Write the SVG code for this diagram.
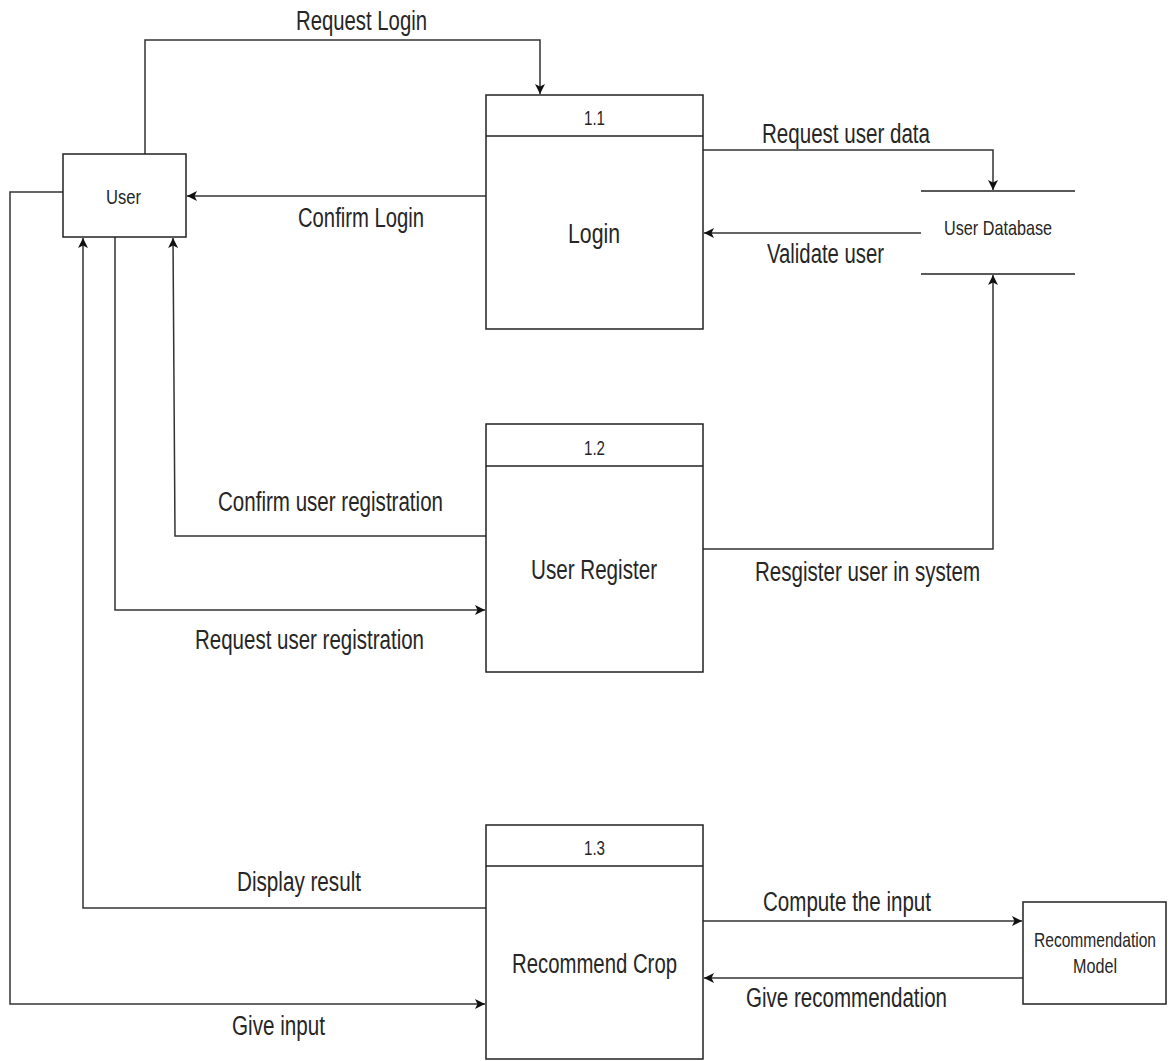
<svg xmlns="http://www.w3.org/2000/svg" width="1168" height="1061" viewBox="0 0 1168 1061">
  <style>
    .box { fill: #ffffff; stroke: #222222; stroke-width: 1.5; }
    .flow { fill: none; stroke: #333333; stroke-width: 1.5; }
    .store { stroke: #222222; stroke-width: 1.5; }
    text { font-family: "Liberation Sans", Arial, sans-serif; fill: #262626; }
    .lbl { font-size: 27px; }
    .sm { font-size: 21px; }
  </style>
  <defs>
    <marker id="arrow" markerUnits="userSpaceOnUse" markerWidth="12" markerHeight="10" refX="10" refY="5" orient="auto">
      <path d="M0,0 L10,5 L0,10 L2.5,5 Z" fill="#111111"/>
    </marker>
  </defs>

  <rect width="1168" height="1061" fill="#ffffff"/>

  <!-- data flows -->
  <g id="connectors">
    <path class="flow" d="M145,154 V40 H540 V94" marker-end="url(#arrow)"/>
    <path class="flow" d="M486,196 H187" marker-end="url(#arrow)"/>
    <path class="flow" d="M703,150 H993 V190" marker-end="url(#arrow)"/>
    <path class="flow" d="M921,233 H704" marker-end="url(#arrow)"/>
    <path class="flow" d="M703,549 H993 V275" marker-end="url(#arrow)"/>
    <path class="flow" d="M486,536 H175 L173,238" marker-end="url(#arrow)"/>
    <path class="flow" d="M115,237 V610 H485" marker-end="url(#arrow)"/>
    <path class="flow" d="M486,908 H83 V238" marker-end="url(#arrow)"/>
    <path class="flow" d="M63,192 H10 V1004 H485" marker-end="url(#arrow)"/>
    <path class="flow" d="M703,921 H1022" marker-end="url(#arrow)"/>
    <path class="flow" d="M1023,978 H704" marker-end="url(#arrow)"/>

    <text class="lbl" x="296" y="29.5" textLength="131" lengthAdjust="spacingAndGlyphs">Request Login</text>
    <text class="lbl" x="298" y="227" textLength="126" lengthAdjust="spacingAndGlyphs">Confirm Login</text>
    <text class="lbl" x="762" y="143" textLength="168" lengthAdjust="spacingAndGlyphs">Request user data</text>
    <text class="lbl" x="767" y="263" textLength="117" lengthAdjust="spacingAndGlyphs">Validate user</text>
    <text class="lbl" x="218" y="511" textLength="225" lengthAdjust="spacingAndGlyphs">Confirm user registration</text>
    <text class="lbl" x="195" y="649" textLength="229" lengthAdjust="spacingAndGlyphs">Request user registration</text>
    <text class="lbl" x="755" y="581" textLength="225" lengthAdjust="spacingAndGlyphs">Resgister user in system</text>
    <text class="lbl" x="237" y="891" textLength="124" lengthAdjust="spacingAndGlyphs">Display result</text>
    <text class="lbl" x="232" y="1035" textLength="93" lengthAdjust="spacingAndGlyphs">Give input</text>
    <text class="lbl" x="763" y="911" textLength="168" lengthAdjust="spacingAndGlyphs">Compute the input</text>
    <text class="lbl" x="746" y="1007" textLength="201" lengthAdjust="spacingAndGlyphs">Give recommendation</text>
  </g>

  <!-- external entity: User -->
  <g id="user">
    <rect class="box" x="63" y="154" width="123" height="83"/>
    <text class="sm" x="106" y="204" font-size="22" textLength="35" lengthAdjust="spacingAndGlyphs">User</text>
  </g>

  <!-- process 1.1 -->
  <g id="login">
    <rect class="box" x="486" y="95" width="217" height="234"/>
    <line class="store" x1="486" y1="136" x2="703" y2="136"/>
    <text class="sm" x="584" y="125" textLength="21" lengthAdjust="spacingAndGlyphs">1.1</text>
    <text class="lbl" x="568" y="243" textLength="52" lengthAdjust="spacingAndGlyphs">Login</text>
  </g>

  <!-- data store -->
  <g id="user-database">
    <line class="store" x1="921" y1="191" x2="1075" y2="191"/>
    <line class="store" x1="921" y1="274" x2="1075" y2="274"/>
    <text class="sm" x="944" y="235" textLength="108" lengthAdjust="spacingAndGlyphs">User Database</text>
  </g>

  <!-- process 1.2 -->
  <g id="user-register">
    <rect class="box" x="486" y="424" width="217" height="248"/>
    <line class="store" x1="486" y1="466" x2="703" y2="466"/>
    <text class="sm" x="584" y="455" textLength="21" lengthAdjust="spacingAndGlyphs">1.2</text>
    <text class="lbl" x="531" y="579" textLength="126" lengthAdjust="spacingAndGlyphs">User Register</text>
  </g>

  <!-- process 1.3 -->
  <g id="recommend-crop">
    <rect class="box" x="486" y="825" width="217" height="234"/>
    <line class="store" x1="486" y1="866" x2="703" y2="866"/>
    <text class="sm" x="584" y="855" textLength="21" lengthAdjust="spacingAndGlyphs">1.3</text>
    <text class="lbl" x="512" y="973" textLength="165" lengthAdjust="spacingAndGlyphs">Recommend Crop</text>
  </g>

  <!-- external entity: model -->
  <g id="recommendation-model">
    <rect class="box" x="1023" y="902" width="143" height="102"/>
    <text class="sm" x="1034" y="947" textLength="122" lengthAdjust="spacingAndGlyphs">Recommendation</text>
    <text class="sm" x="1073" y="973" textLength="44" lengthAdjust="spacingAndGlyphs">Model</text>
  </g>
</svg>
